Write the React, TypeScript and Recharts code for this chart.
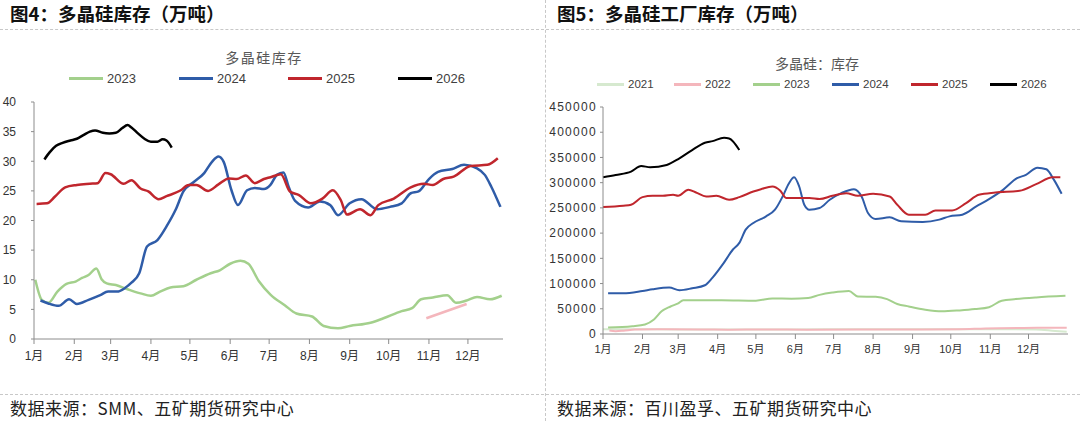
import React from 'react'
import { LineChart, Line, XAxis, YAxis } from 'recharts'

// month starts (day of year) and labels
const monthDays = [0, 31, 59, 90, 120, 151, 181, 212, 243, 273, 304, 334]
const monthLabels = ['1月', '2月', '3月', '4月', '5月', '6月', '7月', '8月', '9月', '10月', '11月', '12月']

// 图4 SMM 多晶硅库存（万吨）: [day, value]
const smm2023: [number, number][] = [
  [1, 10.0], [6, 6.6], [11, 6.1], [18, 8.0], [25, 9.3], [32, 9.7], [37, 10.3], [42, 10.8], [48, 11.9],
  [52, 10.1], [56, 9.4], [63, 9.1], [72, 8.4], [82, 7.7], [90, 7.3], [97, 8.0], [105, 8.7], [115, 8.9],
  [125, 10.0], [136, 11.1], [143, 11.6], [151, 12.7], [159, 13.2], [165, 12.7], [173, 9.8], [182, 7.5],
  [193, 5.7], [202, 4.3], [214, 3.8], [223, 2.2], [234, 1.8], [243, 2.2], [259, 2.75], [269, 3.5],
  [283, 4.7], [291, 5.2], [298, 6.7], [307, 7.0], [318, 7.4], [325, 6.1], [333, 6.5], [341, 7.1],
  [351, 6.7], [360, 7.3],
]
const smm2024: [number, number][] = [
  [5, 6.5], [11, 6.0], [19, 5.6], [27, 6.7], [33, 5.9], [42, 6.6], [51, 7.4], [57, 8.0], [64, 8.0],
  [70, 8.6], [75, 9.5], [81, 11.1], [87, 15.6], [95, 16.7], [102, 19.0], [109, 21.8], [115, 24.9],
  [123, 26.5], [131, 28.0], [137, 29.9], [142, 30.8], [146, 29.9], [152, 25.1], [157, 22.6], [164, 25.1],
  [170, 25.5], [177, 25.3], [182, 26.0], [187, 27.7], [192, 28.1], [196, 25.7], [201, 23.3], [211, 22.2],
  [220, 23.2], [228, 22.6], [234, 20.9], [243, 22.9], [252, 23.6], [264, 21.9], [274, 22.3], [283, 22.9],
  [290, 24.6], [296, 24.9], [304, 27.0], [311, 28.2], [322, 28.7], [331, 29.4], [341, 28.8], [347, 27.7],
  [352, 25.7], [359, 22.3],
]
const smm2025: [number, number][] = [
  [2, 22.8], [10, 22.9], [16, 24.0], [24, 25.6], [33, 26.0], [43, 26.2], [49, 26.3], [55, 28.0], [59, 27.8],
  [69, 26.2], [75, 26.8], [82, 25.4], [88, 24.9], [96, 23.6], [102, 24.1], [113, 25.1], [119, 26.0],
  [125, 26.0], [134, 25.0], [142, 26.1], [150, 27.1], [156, 27.0], [163, 27.6], [170, 26.3], [177, 27.0],
  [182, 27.3], [190, 27.8], [197, 24.9], [204, 24.3], [213, 22.9], [222, 23.7], [230, 25.1], [236, 23.5],
  [241, 21.0], [251, 21.9], [259, 20.9], [265, 22.6], [277, 23.7], [290, 25.6], [300, 26.2], [307, 26.0],
  [315, 27.0], [323, 27.4], [336, 29.2], [349, 29.4], [357, 30.5],
]
const smm2026: [number, number][] = [
  [8, 30.3], [12, 31.5], [17, 32.6], [22, 33.1], [28, 33.5], [33, 33.8], [38, 34.4], [43, 35.0], [47, 35.2],
  [53, 34.8], [58, 34.7], [63, 34.8], [68, 35.6], [72, 36.1], [75, 35.7], [80, 34.7], [85, 33.8], [90, 33.3],
  [95, 33.3], [99, 33.7], [102, 33.5], [106, 32.3],
]
const smmExtra: [number, number][] = [[302, 3.5], [333, 5.9]]

// 图5 百川 多晶硅工厂库存（吨）
const fac2021: [number, number][] = [
  [0, 9500], [30, 9500], [60, 9000], [100, 9000], [150, 9000], [200, 9500], [250, 9500], [300, 9500],
  [340, 9000], [355, 6000], [364, 4500],
]
const fac2022: [number, number][] = [
  [5, 7000], [10, 5500], [16, 6500], [25, 9000], [50, 9500], [80, 9000], [100, 8500], [130, 9000],
  [160, 8500], [200, 9000], [250, 9000], [280, 9500], [300, 11000], [330, 12000], [364, 12500],
]
const fac2023: [number, number][] = [
  [4, 13000], [23, 15500], [33, 19000], [40, 28800], [46, 44900], [53, 54500], [59, 60900], [63, 67000],
  [73, 67000], [93, 67000], [120, 66000], [133, 70500], [148, 70000], [161, 71500], [170, 77600],
  [180, 82100], [193, 85300], [200, 74400], [214, 73700], [223, 69200], [231, 59600], [240, 54500],
  [253, 48100], [266, 44900], [280, 46800], [292, 49400], [303, 53200], [313, 66000], [324, 69200],
  [340, 72400], [363, 75600],
]
const fac2024: [number, number][] = [
  [4, 80800], [16, 80800], [31, 85400], [39, 88700], [52, 92000], [60, 86700], [70, 90700], [80, 96600],
  [86, 111700], [94, 138000], [102, 167500], [107, 180700], [112, 207000], [118, 220100], [128, 233200],
  [135, 246400], [141, 272600], [146, 299000], [150, 310800], [154, 292400], [158, 256200], [162, 246400],
  [170, 249700], [178, 266100], [187, 279200], [197, 287100], [203, 272600], [208, 239900], [214, 228000],
  [225, 231200], [234, 223400], [251, 222100], [264, 226700], [272, 233200], [282, 236500], [293, 252900],
  [303, 267400], [314, 285800], [325, 308800], [332, 315400], [341, 329800], [348, 326600], [354, 305500],
  [360, 277900],
]
const fac2025: [number, number][] = [
  [0, 251700], [16, 254300], [22, 256200], [31, 271300], [39, 274000], [47, 274000], [55, 276000],
  [59, 274000], [67, 285800], [73, 280500], [81, 272600], [89, 274000], [99, 266100], [107, 271300],
  [118, 282500], [124, 287100], [133, 292400], [139, 284500], [144, 269400], [154, 269400], [162, 269400],
  [170, 267400], [180, 274000], [191, 279200], [200, 274000], [212, 277900], [225, 272600], [231, 256200],
  [240, 236500], [253, 236500], [261, 245000], [274, 245000], [285, 259500], [295, 276000], [308, 280500],
  [327, 283800], [340, 297000], [353, 310800], [359, 310800],
]
const fac2026: [number, number][] = [
  [0, 310800], [10, 315400], [22, 321900], [30, 333100], [37, 330500], [50, 335100], [60, 348300],
  [70, 364700], [80, 379100], [86, 382400], [95, 389000], [99, 387700], [107, 364700],
]

const leftTicks = [0, 5, 10, 15, 20, 25, 30, 35, 40]
const rightTicks = [0, 50000, 100000, 150000, 200000, 250000, 300000, 350000, 400000, 450000]

const C = {
  y2021: '#d6e9cf',
  y2022: '#f4b6bc',
  y2023: '#a3d08c',
  y2024: '#2f5ca8',
  y2025: '#c0262d',
  y2026: '#000000',
}

const pts = (arr: [number, number][]) => arr.map(([d, v]) => ({ d, v }))

const tickFont = 'Liberation Sans, Arial, "Noto Sans CJK SC", sans-serif'
const cjk = '"Noto Sans CJK SC", "Liberation Sans", sans-serif'
const axisGray = '#8c8c8c'

function LegendRow({ items, top, lineLen, fontSize }: { items: { x: number; label: string; color: string }[]; top: number; lineLen: number; fontSize: number }) {
  return (
    <>
      {items.map(it => (
        <div key={it.label} style={{ position: 'absolute', left: it.x, top, height: 16, display: 'flex', alignItems: 'center' }}>
          <div style={{ width: lineLen, height: 3, background: it.color, marginRight: 4 }} />
          <span style={{ fontSize, fontFamily: tickFont, color: '#404040' }}>{it.label}</span>
        </div>
      ))}
    </>
  )
}

export default function App() {
  const monthFmt = (d: number) => monthLabels[monthDays.indexOf(d)] ?? ''
  return (
    <div style={{ position: 'absolute', left: 0, top: 0, width: 1080, height: 421, background: '#fff', overflow: 'hidden', fontFamily: cjk }}>
      {/* separators */}
      <div style={{ position: 'absolute', left: 0, top: 29, width: 1080, borderTop: '1px dashed #c8c8c8' }} />
      <div style={{ position: 'absolute', left: 0, top: 394, width: 1080, borderTop: '1px dashed #c8c8c8' }} />
      <div style={{ position: 'absolute', left: 545, top: 0, height: 421, borderLeft: '1px dashed #c8c8c8' }} />

      {/* titles */}
      <div style={{ position: 'absolute', left: 10, top: 4, fontSize: 18.5, lineHeight: 1, fontWeight: 700, color: '#111' }}>图4：多晶硅库存（万吨）</div>
      <div style={{ position: 'absolute', left: 557, top: 4, fontSize: 18.5, lineHeight: 1, fontWeight: 700, color: '#111' }}>图5：多晶硅工厂库存（万吨）</div>
      <div style={{ position: 'absolute', left: 10, top: 399, fontSize: 17, lineHeight: 1, color: '#222', letterSpacing: 0.5 }}>数据来源：SMM、五矿期货研究中心</div>
      <div style={{ position: 'absolute', left: 557, top: 399, fontSize: 17, lineHeight: 1, color: '#222', letterSpacing: 0.5 }}>数据来源：百川盈孚、五矿期货研究中心</div>

      {/* inner titles */}
      <div style={{ position: 'absolute', left: 214, width: 100, textAlign: 'center', top: 47, fontSize: 14, color: '#595959', letterSpacing: 1.5 }}>多晶硅库存</div>
      <div style={{ position: 'absolute', left: 757, width: 120, textAlign: 'center', top: 53, fontSize: 14, color: '#595959' }}>多晶硅：库存</div>

      <LegendRow
        top={70}
        lineLen={34}
        fontSize={13}
        items={[
          { x: 69, label: '2023', color: C.y2023 },
          { x: 179, label: '2024', color: C.y2024 },
          { x: 288, label: '2025', color: C.y2025 },
          { x: 398, label: '2026', color: C.y2026 },
        ]}
      />
      <LegendRow
        top={76}
        lineLen={27}
        fontSize={11.5}
        items={[
          { x: 597, label: '2021', color: C.y2021 },
          { x: 674, label: '2022', color: C.y2022 },
          { x: 753, label: '2023', color: C.y2023 },
          { x: 832, label: '2024', color: C.y2024 },
          { x: 911, label: '2025', color: C.y2025 },
          { x: 990, label: '2026', color: C.y2026 },
        ]}
      />

      {/* left chart */}
      <div style={{ position: 'absolute', left: 0, top: 0 }}>
        <LineChart width={540} height={421} margin={{ top: 102, right: 37, bottom: 52, left: 4 }}>
          <XAxis
            type="number"
            dataKey="d"
            domain={[0, 361]}
            ticks={monthDays}
            tickFormatter={monthFmt}
            interval={0}
            height={30}
            tickSize={5}
            tickMargin={7}
            stroke={axisGray}
            tick={{ fill: '#333', fontSize: 12, fontFamily: tickFont }}
          />
          <YAxis
            type="number"
            domain={[0, 40]}
            ticks={leftTicks}
            interval={0}
            width={30}
            tickSize={3}
            tickMargin={15}
            stroke={axisGray}
            tick={{ fill: '#333', fontSize: 12, fontFamily: tickFont }}
          />
          <Line data={pts(smmExtra)} dataKey="v" type="linear" stroke={C.y2022} strokeWidth={2.5} dot={false} activeDot={false} isAnimationActive={false} />
          <Line data={pts(smm2023)} dataKey="v" type="monotone" stroke={C.y2023} strokeWidth={2.5} dot={false} activeDot={false} isAnimationActive={false} />
          <Line data={pts(smm2024)} dataKey="v" type="monotone" stroke={C.y2024} strokeWidth={2.5} dot={false} activeDot={false} isAnimationActive={false} />
          <Line data={pts(smm2025)} dataKey="v" type="monotone" stroke={C.y2025} strokeWidth={2.5} dot={false} activeDot={false} isAnimationActive={false} />
          <Line data={pts(smm2026)} dataKey="v" type="monotone" stroke={C.y2026} strokeWidth={2.5} dot={false} activeDot={false} isAnimationActive={false} />
        </LineChart>
      </div>

      {/* right chart */}
      <div style={{ position: 'absolute', left: 540, top: 0 }}>
        <LineChart width={540} height={421} margin={{ top: 107, right: 12, bottom: 57, left: 3 }}>
          <XAxis
            type="number"
            dataKey="d"
            domain={[0, 365]}
            ticks={monthDays}
            tickFormatter={monthFmt}
            interval={0}
            height={30}
            tickSize={5}
            tickMargin={6}
            stroke={axisGray}
            tick={{ fill: '#333', fontSize: 11, fontFamily: tickFont }}
          />
          <YAxis
            type="number"
            domain={[0, 450000]}
            ticks={rightTicks}
            interval={0}
            width={60}
            tickSize={3}
            tickMargin={3}
            stroke={axisGray}
            tick={{ fill: '#333', fontSize: 12, fontFamily: tickFont, letterSpacing: 1.3 }}
          />
          <Line data={pts(fac2021)} dataKey="v" type="monotone" stroke={C.y2021} strokeWidth={2} dot={false} activeDot={false} isAnimationActive={false} />
          <Line data={pts(fac2022)} dataKey="v" type="monotone" stroke={C.y2022} strokeWidth={2} dot={false} activeDot={false} isAnimationActive={false} />
          <Line data={pts(fac2023)} dataKey="v" type="monotone" stroke={C.y2023} strokeWidth={2} dot={false} activeDot={false} isAnimationActive={false} />
          <Line data={pts(fac2024)} dataKey="v" type="monotone" stroke={C.y2024} strokeWidth={2} dot={false} activeDot={false} isAnimationActive={false} />
          <Line data={pts(fac2025)} dataKey="v" type="monotone" stroke={C.y2025} strokeWidth={2} dot={false} activeDot={false} isAnimationActive={false} />
          <Line data={pts(fac2026)} dataKey="v" type="monotone" stroke={C.y2026} strokeWidth={2} dot={false} activeDot={false} isAnimationActive={false} />
        </LineChart>
      </div>
    </div>
  )
}
